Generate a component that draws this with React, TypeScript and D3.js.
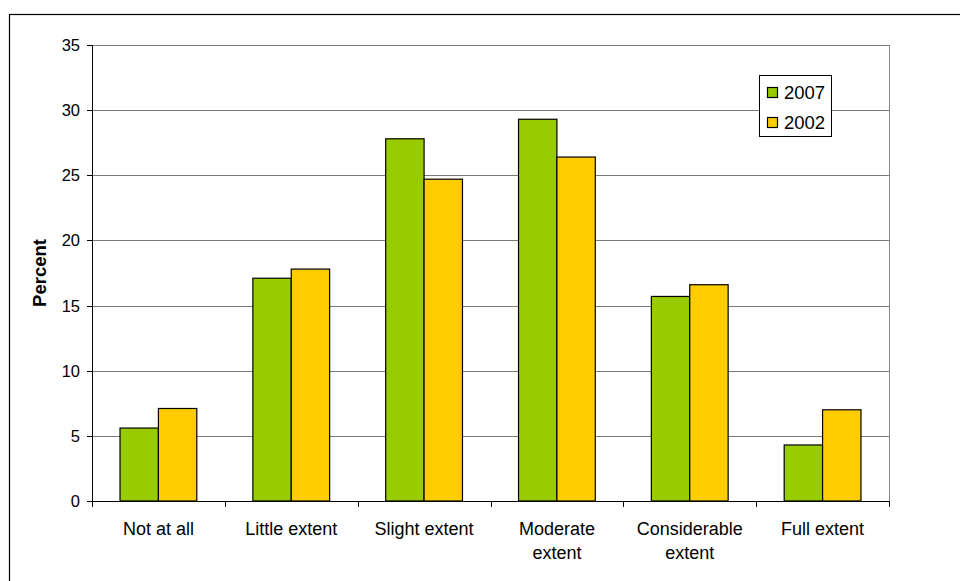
import React from "react";
import * as d3 from "d3";

const categories = [
  "Not at all",
  "Little extent",
  "Slight extent",
  "Moderate extent",
  "Considerable extent",
  "Full extent",
];
const seriesNames = ["2007", "2002"];
const values2007 = [5.6, 17.1, 27.8, 29.3, 15.7, 4.3];
const values2002 = [7.1, 17.8, 24.7, 26.4, 16.6, 7.0];
const yTicks = [0, 5, 10, 15, 20, 25, 30, 35];
const seriesColors = ["#99CC00", "#FFCC00"];

const W = 960;
const H = 581;
const plot = { left: 92, right: 889, top: 45, bottom: 501 };
const FONT = "Arial, 'Liberation Sans', sans-serif";

function wrapLabel(label: string): string[] {
  if (label.length <= 13) return [label];
  const i = label.lastIndexOf(" ");
  return [label.slice(0, i), label.slice(i + 1)];
}

export default function App() {
  const x = d3
    .scaleBand<string>()
    .domain(categories)
    .range([plot.left, plot.right])
    .paddingInner(0)
    .paddingOuter(0);
  const inner = d3
    .scaleBand<string>()
    .domain(seriesNames)
    .range([0, x.bandwidth()])
    .paddingInner(0)
    .paddingOuter(0.73);
  const y = d3.scaleLinear().domain([0, 35]).range([plot.bottom, plot.top]);

  const series = [values2007, values2002];

  return (
    <div style={{ position: "absolute", left: 0, top: 0 }}>
      <svg width={W} height={H} style={{ display: "block", background: "#fff" }}>
        {/* chart frame */}
        <rect x={9.5} y={14.5} width={1000} height={1000} fill="#fff" stroke="#000" strokeWidth={1.2} />

        {/* gridlines */}
        {yTicks.slice(1).map((t) => (
          <line
            key={t}
            x1={plot.left}
            x2={plot.right}
            y1={Math.round(y(t)) + 0.5}
            y2={Math.round(y(t)) + 0.5}
            stroke="#7a7a7a"
            strokeWidth={1}
          />
        ))}
        {/* plot border right */}
        <line x1={plot.right + 0.5} x2={plot.right + 0.5} y1={plot.top} y2={plot.bottom} stroke="#8a8a8a" strokeWidth={1} />

        {/* bars */}
        {categories.map((c, i) => (
          <g key={c}>
            {seriesNames.map((s, j) => {
              const v = series[j][i];
              const bx = (x(c) as number) + (inner(s) as number);
              return (
                <rect
                  key={s}
                  x={bx}
                  y={y(v)}
                  width={inner.bandwidth()}
                  height={y(0) - y(v)}
                  fill={seriesColors[j]}
                  stroke="#000"
                  strokeWidth={1.2}
                />
              );
            })}
          </g>
        ))}

        {/* y axis */}
        <line x1={plot.left + 0.5} x2={plot.left + 0.5} y1={plot.top} y2={plot.bottom} stroke="#000" />
        {yTicks.map((t) => (
          <g key={t}>
            <line x1={plot.left - 5} x2={plot.left} y1={Math.round(y(t)) + 0.5} y2={Math.round(y(t)) + 0.5} stroke="#000" />
            <text
              x={plot.left - 12}
              y={y(t)}
              dy="0.36em"
              textAnchor="end"
              fontFamily={FONT}
              fontSize={16.5}
              fill="#000"
            >
              {t}
            </text>
          </g>
        ))}

        {/* x axis */}
        <line x1={plot.left} x2={plot.right} y1={plot.bottom + 0.5} y2={plot.bottom + 0.5} stroke="#000" />
        {[...categories.map((c) => x(c) as number), plot.right].map((tx, i) => (
          <line key={i} x1={Math.round(tx) + 0.5} x2={Math.round(tx) + 0.5} y1={plot.bottom} y2={plot.bottom + 6} stroke="#000" />
        ))}
        {categories.map((c) => {
          const lines = wrapLabel(c);
          const cx = (x(c) as number) + x.bandwidth() / 2;
          return (
            <text key={c} x={cx} textAnchor="middle" fontFamily={FONT} fontSize={18} fill="#000">
              {lines.map((ln, k) => (
                <tspan key={k} x={cx} y={535 + k * 24}>
                  {ln}
                </tspan>
              ))}
            </text>
          );
        })}

        {/* y axis title */}
        <text
          transform={`translate(46, ${(plot.top + plot.bottom) / 2}) rotate(-90)`}
          textAnchor="middle"
          fontFamily={FONT}
          fontSize={18.5}
          fontWeight="bold"
          fill="#000"
        >
          Percent
        </text>

        {/* legend */}
        <g>
          <rect x={759.5} y={75.5} width={72} height={61} fill="#fff" stroke="#000" strokeWidth={1} />
          {seriesNames.map((s, j) => (
            <g key={s} transform={`translate(767, ${87 + j * 30})`}>
              <rect x={0.5} y={0.5} width={10} height={10} fill={seriesColors[j]} stroke="#000" strokeWidth={1.2} />
              <text x={17} y={5.5} dy="0.36em" fontFamily={FONT} fontSize={18.5} fill="#000">
                {s}
              </text>
            </g>
          ))}
        </g>
      </svg>
    </div>
  );
}
